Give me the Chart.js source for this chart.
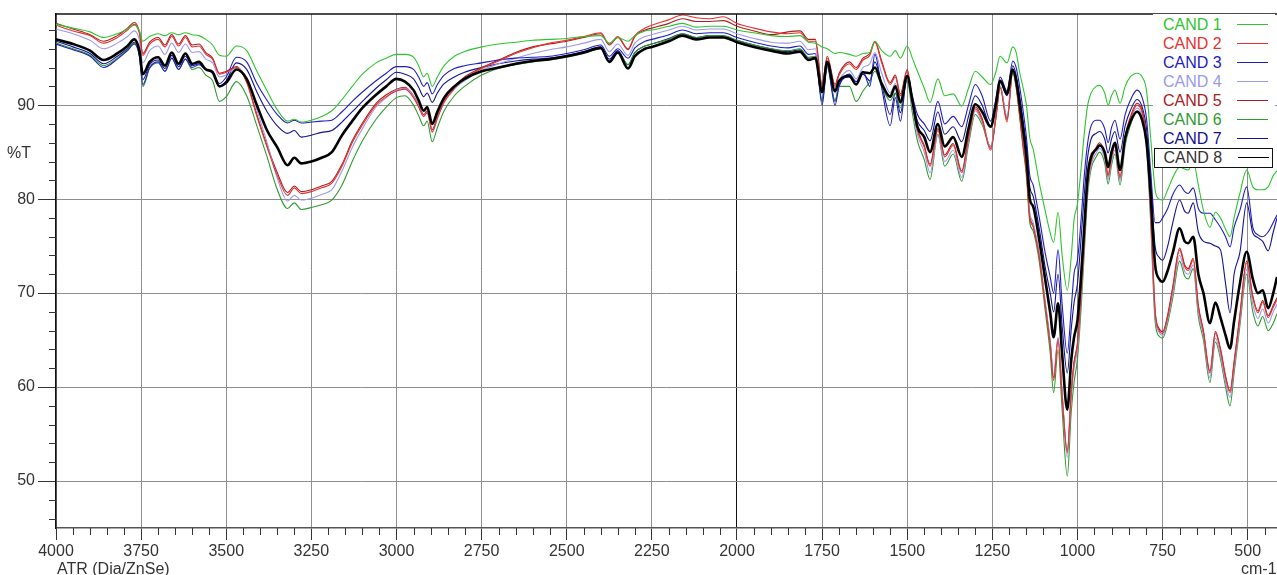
<!DOCTYPE html>
<html><head><meta charset="utf-8">
<script src="https://cdn.jsdelivr.net/npm/chart.js@4.4.0/dist/chart.umd.min.js"></script>
<style>
html,body{margin:0;padding:0;background:#fff;overflow:hidden}
#wrap{position:relative;width:1277px;height:575px;overflow:hidden}
.cap{position:absolute;font-family:'Liberation Sans',Arial,sans-serif;font-size:16px;line-height:18px;color:#333;white-space:nowrap}
#legend{position:absolute;left:1153px;top:14px;width:122px;height:154px;background:#fff}
.row{position:absolute;left:0;width:120px;height:19px}
.row span{position:absolute;left:10px;top:0;font-family:'Liberation Sans',Arial,sans-serif;font-size:16px;line-height:19px;white-space:nowrap}
.row i{position:absolute;left:84px;top:9px;width:31px;height:1px}
.row.boxed{border:1.5px solid #111;box-sizing:border-box;left:1px;width:119px;height:20px}
.row.boxed span{left:8.5px;top:-0.5px}
.row.boxed i{left:82.5px;top:8.5px}
</style>
</head><body>
<div id="wrap">
<canvas id="c" width="1277" height="575"></canvas>
<div id="legend"></div>
<div class="cap" style="left:7px;top:144px">%T</div>
<div class="cap" style="left:57px;top:560px">ATR (Dia/ZnSe)</div>
<div class="cap" style="left:1241px;top:560px">cm-1</div>
</div>
<script>
const wavenumbers = [4000,3950,3900,3860,3820,3790,3770,3755,3745,3725,
3700,3680,3660,3640,3620,3600,3580,3560,3540,3520,
3500,3470,3440,3410,3380,3350,3320,3300,3280,3250,
3220,3190,3160,3130,3100,3060,3030,3000,2975,2950,
2935,2920,2910,2895,2880,2860,2830,2800,2750,2700,
2650,2600,2550,2500,2450,2400,2375,2350,2320,2300,
2270,2250,2200,2160,2120,2080,2040,2000,1950,1900,
1850,1815,1790,1770,1750,1735,1712,1700,1670,1650,
1630,1610,1595,1575,1550,1535,1520,1500,1485,1470,
1450,1433,1410,1390,1365,1340,1320,1300,1280,1255,
1240,1227,1207,1190,1180,1170,1160,1150,1140,1130,
1112,1095,1080,1070,1057,1045,1030,1018,1010,1000,
990,980,970,960,945,935,920,910,900,890,
875,860,845,825,810,797,785,772,760,750,
735,720,700,685,675,660,645,630,611,595,
580,565,552,540,523,503,485,470,456,440,
425,414];

const cand1 = [98.6,98.2,97.8,97.2,97.6,98.1,98.5,97.9,96.8,97.3,
97.6,97.4,97.7,97.5,97.7,97.5,97.4,97.0,96.4,95.3,
95.2,96.3,95.8,93.6,91.5,89.5,88.3,88.5,88.2,88.4,
88.8,89.4,90.6,92.0,93.3,94.5,95.0,95.4,95.4,95.1,
94.2,93.0,93.4,92.0,93.0,94.2,95.2,95.7,96.2,96.5,
96.7,96.9,97.0,97.1,97.3,97.4,96.6,97.2,96.8,97.4,
97.9,98.0,98.4,98.7,98.3,98.4,98.4,98.0,97.7,97.4,
97.3,97.4,96.7,96.6,96.2,96.0,95.5,95.6,95.4,95.2,
95.5,95.6,96.8,95.8,95.2,95.8,95.0,96.3,95.0,93.6,
91.8,90.3,92.8,91.0,91.2,89.9,91.8,93.6,93.0,92.2,
93.5,95.2,94.5,96.2,95.6,93.5,91.9,90.0,86.5,85.3,
81.7,78.8,76.4,75.4,78.6,74.0,70.3,74.0,77.8,79.5,
83.0,87.0,90.0,91.3,92.0,92.1,91.3,90.0,91.0,91.6,
90.2,92.0,93.0,93.4,93.0,91.5,86.5,81.0,80.0,79.9,
81.0,82.3,83.4,83.2,83.1,84.0,81.5,78.8,77.0,78.6,
78.0,76.8,76.0,78.0,80.6,83.1,81.3,81.0,81.0,81.3,
82.5,83.0];

const cand2 = [98.5,97.9,97.4,96.6,97.2,98.0,98.6,97.6,95.3,96.5,
97.0,96.2,97.3,96.3,97.2,96.2,96.3,95.4,94.9,93.3,
93.5,94.0,92.4,88.8,85.5,82.5,80.4,81.2,80.6,80.8,
81.2,81.7,83.5,86.0,87.9,90.0,90.9,91.5,91.7,90.8,
89.8,88.8,89.2,87.2,88.6,90.3,91.8,92.8,93.9,94.7,
95.5,96.1,96.6,96.9,97.3,97.7,96.5,97.3,96.0,97.4,
98.2,98.5,99.1,99.6,99.3,99.2,99.4,98.7,98.2,97.8,
97.6,97.7,96.8,96.8,92.0,95.0,92.0,93.2,94.4,93.8,
94.8,95.3,96.7,94.5,92.2,93.0,91.0,93.6,90.3,87.3,
85.5,83.5,87.3,84.5,85.7,82.8,86.5,89.6,88.4,85.2,
88.5,91.8,88.2,93.6,92.0,89.0,85.8,82.8,78.0,77.0,
73.8,68.8,64.5,60.7,65.0,59.0,53.0,59.5,62.5,64.5,
69.5,75.5,81.5,84.0,85.3,85.8,84.6,82.4,84.4,85.6,
82.2,86.5,88.5,90.0,89.2,86.2,78.5,68.0,66.0,65.7,
67.5,70.5,74.6,72.8,72.4,73.5,68.5,65.8,61.5,65.7,
63.9,61.0,59.4,62.5,67.5,73.2,69.5,67.9,69.0,67.4,
68.5,69.3];

const cand3 = [96.5,95.9,95.2,94.0,94.9,95.8,96.5,95.2,92.2,94.0,
94.6,93.6,95.0,93.8,94.9,94.0,94.3,93.8,93.6,92.3,
93.0,95.1,94.6,92.3,90.5,89.0,88.1,88.4,88.1,88.2,
88.3,88.4,89.3,90.4,91.4,92.6,93.4,94.1,94.1,93.8,
93.0,92.0,92.4,91.2,92.2,93.2,93.9,94.2,94.5,94.8,
95.0,95.1,95.2,95.5,95.9,96.4,95.2,96.0,95.0,96.1,
96.8,97.0,97.5,98.0,97.6,97.7,97.7,97.2,96.7,96.3,
96.1,96.3,95.4,95.5,90.0,94.2,90.0,92.0,93.3,92.5,
93.6,92.0,95.4,91.8,87.8,90.8,88.3,93.2,91.0,89.0,
88.0,87.2,90.4,88.0,88.8,87.7,90.0,92.2,91.0,88.3,
90.6,93.0,91.5,94.7,94.0,92.0,89.5,86.6,82.5,81.5,
78.0,74.3,71.7,70.0,74.6,68.8,63.6,68.5,72.1,73.5,
77.5,82.5,86.0,87.8,88.4,88.4,87.5,86.0,87.6,88.4,
86.4,89.0,90.5,91.6,90.8,88.5,83.0,77.5,77.5,78.0,
79.0,80.5,81.5,80.8,80.6,81.2,79.0,78.5,78.5,77.8,
77.0,76.0,74.9,77.0,78.8,81.3,77.0,76.2,76.0,76.5,
77.5,78.3];

const cand4 = [98.1,97.6,96.9,96.0,96.6,97.3,97.9,96.9,94.5,95.8,
96.3,95.4,96.6,95.6,96.5,95.6,95.7,94.9,94.5,93.0,
93.2,94.0,92.8,89.5,86.0,82.2,79.8,80.4,79.9,80.1,
80.5,81.0,83.0,85.5,87.5,89.8,90.8,91.6,91.8,91.0,
89.9,88.8,89.2,87.1,88.6,90.3,91.7,92.6,93.7,94.4,
95.0,95.5,95.9,96.2,96.6,97.0,95.7,96.5,95.3,96.6,
97.3,97.5,98.0,98.4,98.0,98.1,98.1,97.6,97.1,96.7,
96.6,96.8,95.9,96.0,91.2,94.5,91.3,92.6,93.7,92.8,
94.0,94.4,95.6,93.4,91.3,92.3,90.5,93.0,89.8,86.9,
85.0,82.8,86.8,84.0,85.2,82.3,86.2,89.4,88.2,85.6,
88.6,92.0,88.8,93.8,92.4,89.5,86.3,83.2,78.5,77.5,
74.0,69.2,64.9,61.2,65.3,59.5,52.5,59.0,62.0,64.0,
69.0,75.0,81.0,83.6,84.9,85.4,84.3,82.1,84.0,85.2,
81.9,86.1,88.2,89.7,88.8,85.8,78.0,67.5,65.8,65.5,
67.2,70.0,74.0,72.3,72.0,73.0,68.0,65.5,61.0,65.2,
63.4,60.5,58.9,62.0,67.0,72.5,68.8,67.3,68.3,66.8,
68.0,68.8];

const cand5 = [98.7,98.1,97.5,96.8,97.4,98.2,98.8,97.8,95.5,96.7,
97.2,96.4,97.5,96.5,97.4,96.4,96.5,95.6,95.0,93.4,
93.6,94.1,92.5,89.0,85.7,82.8,80.7,81.4,80.8,81.0,
81.4,81.9,83.7,86.2,88.1,90.2,91.1,91.7,91.9,91.0,
90.0,89.0,89.4,87.4,88.8,90.5,92.0,93.0,94.0,94.8,
95.6,96.2,96.5,96.8,97.2,97.6,96.4,97.2,95.9,97.3,
98.0,98.2,98.7,99.2,98.9,98.9,99.0,98.4,97.9,97.5,
97.8,97.9,97.0,97.0,92.2,95.2,92.2,93.4,94.6,94.0,
95.0,95.5,96.8,94.7,92.4,93.2,91.2,93.8,90.5,87.5,
85.7,83.7,87.5,84.7,85.9,83.0,86.7,89.8,88.6,85.4,
88.7,92.0,88.4,93.8,92.2,89.2,86.0,83.0,78.2,77.2,
74.0,69.0,64.7,61.0,65.2,59.2,53.2,59.7,62.7,64.7,
69.7,75.7,81.7,84.2,85.5,86.0,84.8,82.6,84.6,85.8,
82.4,86.7,88.7,90.2,89.4,86.4,78.7,68.2,66.2,65.9,
67.7,70.7,74.8,73.0,72.6,73.7,68.7,66.0,61.7,65.9,
64.1,61.2,59.6,62.7,67.7,73.4,69.7,68.1,69.2,67.6,
68.7,69.5];

const cand6 = [96.6,96.0,95.3,94.2,95.0,95.9,96.6,95.2,92.0,93.9,
94.5,93.6,95.0,93.8,94.9,93.8,94.0,93.2,92.6,90.4,
90.9,92.5,91.0,87.8,84.5,81.0,79.0,79.6,78.9,79.1,
79.4,79.9,81.5,84.0,86.2,88.5,89.8,90.8,91.0,90.0,
88.9,87.8,88.3,86.1,87.6,89.4,91.0,92.0,93.2,93.9,
94.3,94.6,94.8,95.1,95.5,96.0,94.7,95.6,94.3,95.6,
96.3,96.5,97.0,97.6,97.2,97.4,97.4,96.9,96.4,96.0,
95.8,96.0,95.1,95.2,90.5,94.0,90.5,92.0,92.0,90.4,
91.5,92.5,93.6,92.0,90.5,91.3,89.7,92.6,89.2,86.2,
84.2,82.1,86.9,83.5,84.8,81.9,85.8,89.0,87.9,85.6,
88.5,92.0,88.6,93.4,91.8,88.8,85.5,82.5,77.5,76.6,
73.3,68.2,63.6,59.4,64.0,57.5,50.5,57.5,60.5,63.0,
68.0,74.3,80.5,83.2,84.5,85.0,83.8,81.6,83.6,84.8,
81.5,85.7,87.8,89.4,88.5,85.4,77.5,67.0,65.4,65.2,
66.8,69.5,73.4,71.8,71.5,72.6,67.5,65.0,60.5,64.8,
63.0,60.0,58.0,61.5,66.5,72.0,68.0,66.5,67.5,66.0,
66.8,67.8];

const cand7 = [96.8,96.2,95.5,94.4,95.2,96.0,96.7,95.5,92.7,94.3,
94.8,93.9,95.3,94.1,95.2,94.2,94.4,93.8,93.5,92.0,
92.6,94.5,93.8,91.4,89.3,87.8,87.0,87.3,86.6,86.8,
87.1,87.3,88.2,89.3,90.4,91.8,92.7,93.5,93.3,92.8,
91.9,90.9,91.3,90.3,91.3,92.3,93.0,93.5,94.0,94.4,
94.7,94.9,95.0,95.3,95.7,96.2,94.9,95.8,94.3,95.6,
96.3,96.5,97.1,97.6,97.2,97.4,97.3,96.9,96.4,96.0,
95.7,95.9,95.0,95.1,90.4,94.3,90.4,92.2,93.0,92.2,
93.3,92.6,94.6,92.2,89.0,91.3,89.2,93.0,90.6,88.3,
87.3,86.2,89.3,86.9,87.7,86.1,88.8,91.0,90.0,87.8,
90.0,92.6,91.0,94.2,93.2,91.0,88.5,85.6,81.3,80.3,
76.8,72.8,70.0,68.0,72.0,66.5,61.5,66.3,69.0,71.0,
75.5,80.5,84.5,86.4,87.0,87.2,86.4,84.9,86.4,87.2,
85.0,87.8,89.4,90.6,89.8,87.4,81.8,75.0,73.8,73.5,
75.0,77.5,79.9,78.7,78.5,79.6,76.5,75.5,75.3,75.0,
74.6,71.0,67.9,72.0,74.3,79.6,76.4,75.9,75.5,74.5,
76.5,78.0];

const cand8 = [97.0,96.5,95.8,94.8,95.5,96.3,97.0,95.8,93.3,94.6,
95.1,94.2,95.6,94.4,95.5,94.4,94.6,93.8,93.5,92.0,
92.4,93.8,92.8,90.0,87.3,85.5,83.6,84.4,83.8,84.0,
84.4,85.0,86.8,88.3,89.7,91.1,92.0,92.8,92.5,91.6,
90.5,89.4,89.8,88.0,89.3,90.8,92.0,92.8,93.6,94.0,
94.4,94.7,94.9,95.2,95.6,96.1,94.6,95.6,93.9,95.2,
96.0,96.2,96.8,97.4,97.0,97.2,97.2,96.7,96.2,95.8,
95.5,95.7,94.8,95.0,91.4,94.6,91.5,92.6,93.1,92.2,
93.5,93.4,94.0,92.3,90.9,92.0,90.3,93.1,90.5,87.7,
86.6,85.0,88.0,85.6,86.6,84.5,87.5,90.1,89.3,87.7,
90.0,92.6,91.2,93.8,92.6,90.2,87.5,84.5,80.0,79.2,
75.6,71.5,67.9,65.3,68.9,63.5,57.6,63.0,65.3,67.1,
71.5,77.0,82.5,84.5,85.3,85.7,85.0,83.4,85.0,86.0,
83.1,86.5,88.2,89.3,88.4,86.0,80.5,73.0,71.5,71.2,
72.4,74.3,76.9,75.5,75.3,76.0,72.0,70.0,66.8,69.0,
67.4,65.5,64.1,67.0,71.0,74.4,71.5,70.0,70.3,68.4,
70.0,71.7];

const seriesNames = ['CAND 1','CAND 2','CAND 3','CAND 4','CAND 5','CAND 6','CAND 7','CAND 8'];
const seriesColors = ['#2fc42f','#e8302f','#1d1dbf','#9a9ae6','#a52222','#2f9a2f','#12128f','#000000'];
const xTickValues = [4000,3750,3500,3250,3000,2750,2500,2250,2000,1750,1500,1250,1000,750,500];
const yTickValues = [50,60,70,80,90];

const series = [cand1,cand2,cand3,cand4,cand5,cand6,cand7,cand8];

// legend (HTML)
const legendEl = document.getElementById('legend');
seriesNames.forEach((name,i)=>{
  const r = document.createElement('div');
  r.className = 'row' + (i===7 ? ' boxed' : '');
  r.style.top = (0.5 + 19*i) + 'px';
  const s = document.createElement('span'); s.textContent = name; s.style.color = i===7 ? '#333' : seriesColors[i];
  const l = document.createElement('i'); l.style.background = seriesColors[i];
  r.appendChild(s); r.appendChild(l); legendEl.appendChild(r);
});

const xMinor = [], yMinor = [];
for (let v = 3950; v >= 450; v -= 50) if (v % 250 !== 0) xMinor.push(v);
for (let v = 46; v <= 98; v += 2) if (v % 10 !== 0) yMinor.push(v);

const extras = {
  id: 'extras',
  afterDraw(chart) {
    const {ctx, chartArea: a, scales: {x, y}} = chart;
    ctx.save();
    ctx.strokeStyle = '#333'; ctx.lineWidth = 1;
    ctx.beginPath();
    xMinor.forEach(v => { const px = Math.round(x.getPixelForValue(v)) + 0.5; ctx.moveTo(px, a.bottom); ctx.lineTo(px, a.bottom + 7); });
    yMinor.forEach(v => { const py = Math.round(y.getPixelForValue(v)) + 0.5; ctx.moveTo(a.left - 7, py); ctx.lineTo(a.left, py); });
    ctx.stroke();
    ctx.strokeStyle = '#111'; ctx.lineWidth = 1.5;
    ctx.beginPath(); ctx.moveTo(a.left, a.top); ctx.lineTo(a.right, a.top); ctx.stroke();
    ctx.restore();
  }
};

const font = {family: "'Liberation Sans', Arial, sans-serif", size: 16};

new Chart(document.getElementById('c'), {
  type: 'line',
  data: {
    datasets: series.map((vals, i) => ({
      label: seriesNames[i],
      data: wavenumbers.map((w, j) => ({x: w, y: vals[j]})),
      borderColor: seriesColors[i],
      borderWidth: i === 7 ? 2.6 : 1.1,
      pointRadius: 0,
      fill: false,
      cubicInterpolationMode: 'monotone',
      order: i === 7 ? 0 : 1
    }))
  },
  options: {
    responsive: false,
    animation: false,
    devicePixelRatio: 1,
    layout: {padding: {top: 14, right: 0, bottom: 0, left: 0}},
    plugins: {legend: {display: false}, tooltip: {enabled: false}},
    scales: {
      x: {
        type: 'linear', reverse: true, min: 414, max: 4000,
        afterBuildTicks: s => { s.ticks = xTickValues.map(v => ({value: v})); },
        afterFit: s => { s.height = 47; },
        grid: {color: c => (c.tick && c.tick.value === 2000) ? '#111' : '#8e8e8e', lineWidth: 1, drawTicks: true, tickLength: 12, tickColor: '#333'},
        border: {display: true, color: '#555', width: 1.5},
        ticks: {color: '#333', font, padding: 2, maxRotation: 0, autoSkip: false, callback: v => String(v)}
      },
      y: {
        min: 45, max: 99.7,
        afterBuildTicks: s => { s.ticks = yTickValues.map(v => ({value: v})); },
        afterFit: s => { s.width = 56; },
        grid: {color: '#8e8e8e', lineWidth: 1, drawTicks: true, tickLength: 18, tickColor: '#333'},
        border: {display: true, color: '#111', width: 1.5},
        ticks: {color: '#333', font, padding: 3, callback: v => String(v)}
      }
    }
  },
  plugins: [extras]
});
</script>
</body></html>
